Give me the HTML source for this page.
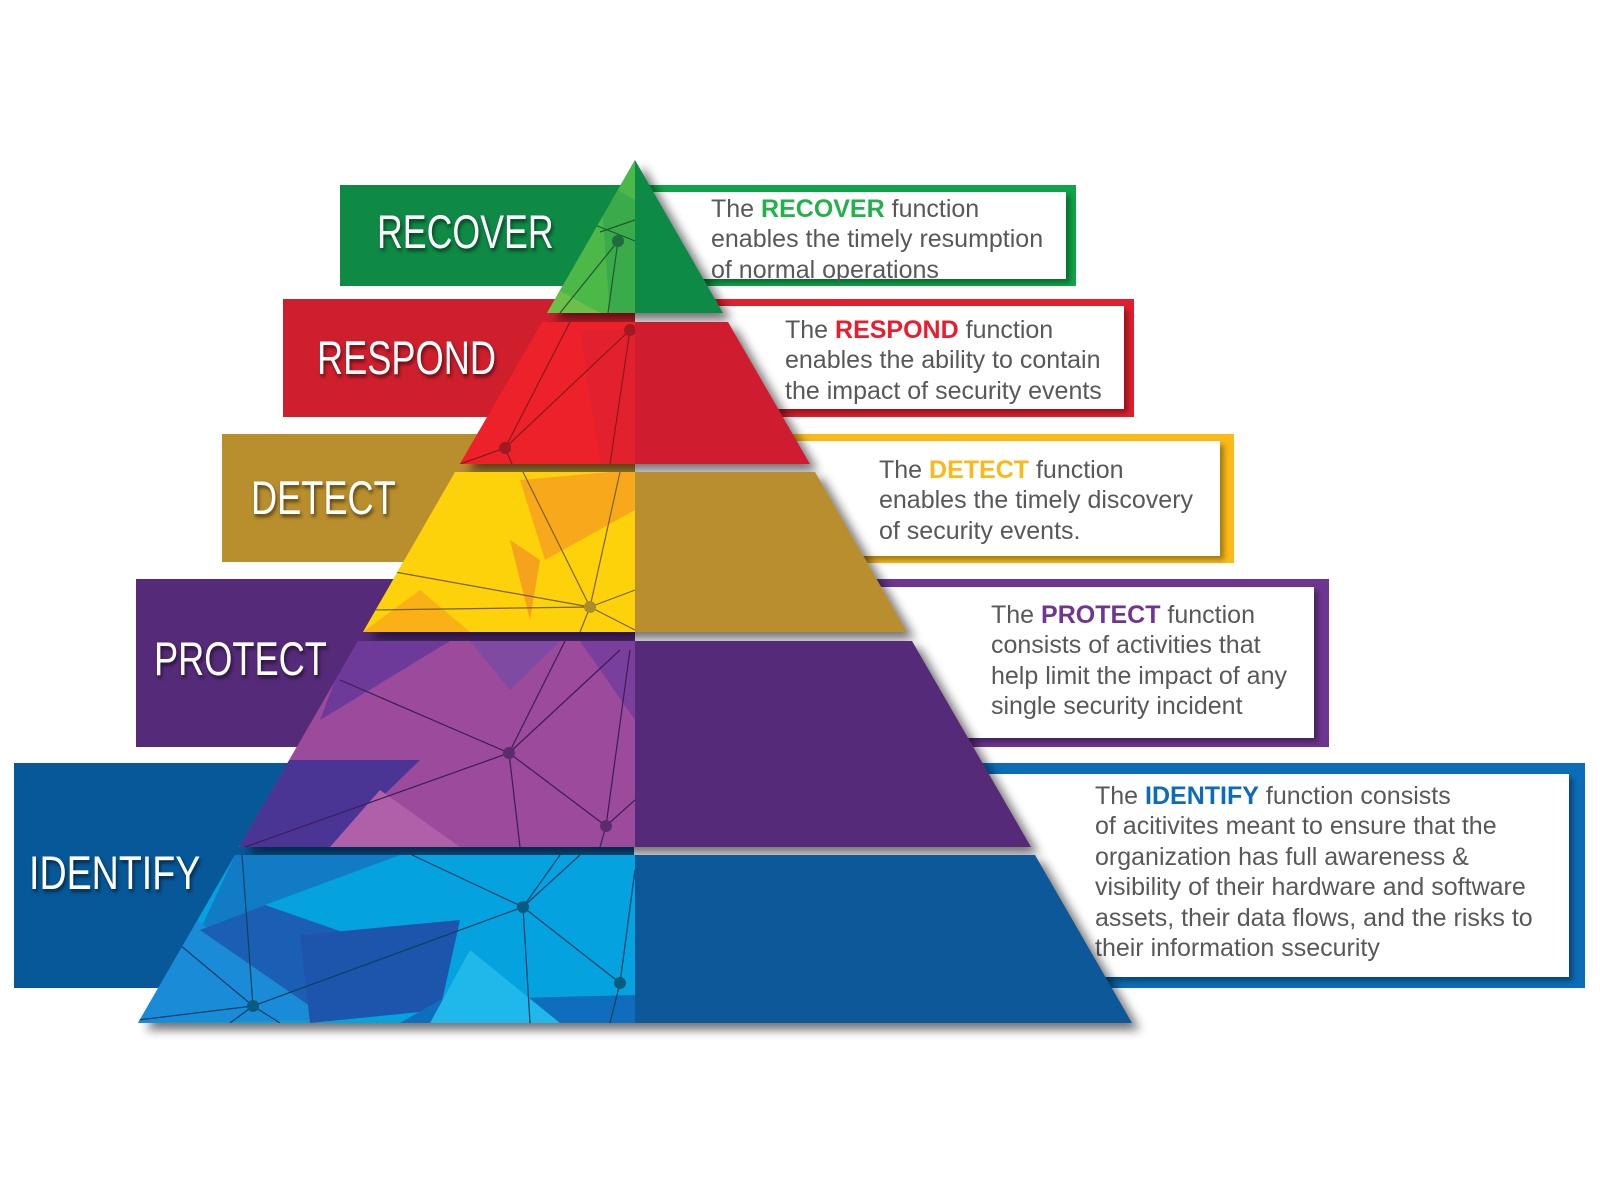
<!DOCTYPE html>
<html><head><meta charset="utf-8"><style>
html,body{margin:0;padding:0;background:#fff;}
#c{position:relative;width:1600px;height:1200px;overflow:hidden;background:#fff;font-family:"Liberation Sans",sans-serif;}
.box{position:absolute;}
.inner{position:absolute;background:#fff;box-shadow:4px 4px 5px rgba(0,0,0,.35);}
.txt{position:absolute;font-size:25px;line-height:30.4px;color:#58585a;white-space:nowrap;}
.txt b{font-weight:bold;}
.lab{position:absolute;color:#fff;font-size:47px;white-space:nowrap;transform-origin:0 50%;text-shadow:2px 3px 4px rgba(0,0,0,.55);line-height:1;}
svg{position:absolute;left:0;top:0;}
</style></head><body><div id="c">
<div class="box" style="left:340px;top:185px;width:300px;height:101px;background:#0e8a45"></div>
<div class="box" style="left:283px;top:299px;width:360px;height:118px;background:#cf1f2d"></div>
<div class="box" style="left:222px;top:434px;width:420px;height:128px;background:#b98e2d"></div>
<div class="box" style="left:136px;top:579px;width:500px;height:168px;background:#552a78"></div>
<div class="box" style="left:14px;top:763px;width:620px;height:225px;background:#075898"></div>
<div class="box" style="left:635px;top:185px;width:441px;height:101px;background:#0fa548"><div class="inner" style="left:0;top:7px;right:10px;bottom:7px"></div></div>
<div class="box" style="left:635px;top:299px;width:499px;height:118px;background:#e21f2d"><div class="inner" style="left:0;top:7px;right:10px;bottom:8px"></div></div>
<div class="box" style="left:635px;top:434px;width:599px;height:129px;background:#fbba18"><div class="inner" style="left:0;top:7px;right:14px;bottom:7px"></div></div>
<div class="box" style="left:635px;top:579px;width:694px;height:168px;background:#6d3591"><div class="inner" style="left:0;top:8px;right:15px;bottom:9px"></div></div>
<div class="box" style="left:635px;top:763px;width:950px;height:225px;background:#0b6db7"><div class="inner" style="left:0;top:11px;right:16px;bottom:11px"></div></div>

<div class="txt" style="left:711px;top:194px">The <b style="color:#22b24c">RECOVER</b> function<br>enables the timely resumption<br>of normal operations</div>
<div class="txt" style="left:785px;top:315px">The <b style="color:#ec1c2e">RESPOND</b> function<br>enables the ability to contain<br>the impact of security events</div>
<div class="txt" style="left:879px;top:455px">The <b style="color:#fbb817">DETECT</b> function<br>enables the timely discovery<br>of security events.</div>
<div class="txt" style="left:991px;top:600px">The <b style="color:#6f3592">PROTECT</b> function<br>consists of activities that<br>help limit the impact of any<br>single security incident</div>
<div class="txt" style="left:1095px;top:781px">The <b style="color:#0b6db7">IDENTIFY</b> function consists<br>of acitivites meant to ensure that the<br>organization has full awareness &amp;<br>visibility of their hardware and software<br>assets, their data flows, and the risks to<br>their information ssecurity</div>

<div class="lab" style="left:377px;top:208px;transform:scaleX(.76)">RECOVER</div>
<div class="lab" style="left:317px;top:334px;transform:scaleX(.77)">RESPOND</div>
<div class="lab" style="left:251px;top:474px;transform:scaleX(.77)">DETECT</div>
<div class="lab" style="left:154px;top:635px;transform:scaleX(.77)">PROTECT</div>
<div class="lab" style="left:29px;top:849px;transform:scaleX(.8)">IDENTIFY</div>

<svg width="1600" height="1200" viewBox="0 0 1600 1200">
<defs>
<filter id="sh" x="-10%" y="-10%" width="130%" height="140%"><feGaussianBlur in="SourceAlpha" stdDeviation="5"/><feOffset dx="8" dy="7"/><feComponentTransfer><feFuncA type="linear" slope="0.55"/></feComponentTransfer><feMerge><feMergeNode/><feMergeNode in="SourceGraphic"/></feMerge></filter>
<clipPath id="k1"><polygon points="635,160 547,313 635,313"/></clipPath>
<clipPath id="k2"><polygon points="542,322 460,464 635,464 635,322"/></clipPath>
<clipPath id="k3"><polygon points="455,472 363,632 635,632 635,472"/></clipPath>
<clipPath id="k4"><polygon points="358,641 239,847 635,847 635,641"/></clipPath>
<clipPath id="k5"><polygon points="235,855 138,1023 635,1023 635,855"/></clipPath>
</defs>
<g filter="url(#sh)">
<polygon points="635,160 723,313 547,313" fill="#0e8a45"/>
<polygon points="542,322 728,322 810,464 460,464" fill="#cf1f2d"/>
<polygon points="455,472 815,472 907,632 363,632" fill="#b98e2d"/>
<polygon points="358,641 912,641 1031,847 239,847" fill="#552a78"/>
<polygon points="235,855 1035,855 1132,1023 138,1023" fill="#075898"/>
</g>
<g clip-path="url(#k1)"><rect x="540" y="155" width="100" height="160" fill="#4cb848"/>
<polygon points="540,280 600,313 540,313" fill="#6cc04a"/><polygon points="600,180 635,200 635,313 610,313" fill="#3aaa4b"/>
<g stroke="#1e5a30" stroke-width="1.2" fill="none"><line x1="595" y1="225" x2="635" y2="241"/><line x1="618" y1="241" x2="560" y2="313"/><line x1="618" y1="241" x2="608" y2="313"/><line x1="600" y1="232" x2="635" y2="220"/></g><circle cx="618" cy="241" r="6" fill="#1f6d3d"/></g>
<g clip-path="url(#k2)"><rect x="455" y="320" width="185" height="150" fill="#ec2129"/>
<polygon points="580,330 635,330 635,464 600,464" fill="#e3202d"/>
<g stroke="#8a1a1a" stroke-width="1.2" fill="none"><line x1="630" y1="330" x2="505" y2="448"/><line x1="570" y1="322" x2="505" y2="448"/><line x1="630" y1="330" x2="610" y2="464"/><line x1="505" y1="448" x2="460" y2="464"/><line x1="505" y1="448" x2="512" y2="464"/></g><circle cx="630" cy="330" r="6" fill="#a11a22"/><circle cx="505" cy="448" r="6" fill="#a11a22"/></g>
<g clip-path="url(#k3)"><rect x="360" y="470" width="280" height="165" fill="#fdd20a"/>
<polygon points="520,480 635,470 635,510 545,560" fill="#f8a81b"/><polygon points="510,540 540,560 530,620" fill="#f6a21c"/><polygon points="363,632 420,590 470,632" fill="#f9b116"/>
<g stroke="#7a6220" stroke-width="1.2" fill="none"><line x1="523" y1="472" x2="590" y2="607"/><line x1="620" y1="472" x2="590" y2="607"/><line x1="395" y1="572" x2="590" y2="607"/><line x1="370" y1="610" x2="590" y2="607"/><line x1="590" y1="607" x2="635" y2="590"/><line x1="590" y1="607" x2="635" y2="630"/><line x1="590" y1="607" x2="580" y2="632"/></g><circle cx="590" cy="607" r="6" fill="#a88d2a"/></g>
<g clip-path="url(#k4)"><rect x="235" y="640" width="405" height="210" fill="#9b4a9c"/>
<polygon points="350,641 450,641 320,720" fill="#6e3a9a"/><polygon points="470,641 560,641 510,690" fill="#7f4aa2"/><polygon points="250,760 420,760 330,847 240,847" fill="#4a3595"/><polygon points="380,790 460,847 330,847" fill="#b060a8"/><polygon points="580,641 635,641 635,720" fill="#7a3e9d"/>
<g stroke="#3d1d55" stroke-width="1.2" fill="none"><line x1="340" y1="680" x2="509" y2="753"/><line x1="509" y1="753" x2="565" y2="641"/><line x1="509" y1="753" x2="620" y2="650"/><line x1="509" y1="753" x2="606" y2="826"/><line x1="509" y1="753" x2="245" y2="847"/><line x1="509" y1="753" x2="520" y2="847"/><line x1="606" y1="826" x2="630" y2="650"/><line x1="606" y1="826" x2="600" y2="847"/><line x1="606" y1="826" x2="635" y2="800"/></g><circle cx="509" cy="753" r="6" fill="#5b2c6c"/><circle cx="606" cy="826" r="6" fill="#5b2c6c"/></g>
<g clip-path="url(#k5)"><rect x="130" y="850" width="510" height="180" fill="#04a2df"/>
<polygon points="235,855 400,855 265,905 200,930" fill="#127bc6"/><polygon points="190,915 330,1020 138,1023" fill="#1a8bd6"/><polygon points="265,905 380,945 330,1020 200,930" fill="#1b5fb5"/><polygon points="300,935 460,920 440,1010 310,1023" fill="#1d55ad"/><polygon points="440,1000 635,995 635,1023 400,1023" fill="#0e6dbc"/><polygon points="470,950 560,1023 430,1023" fill="#20b7ea"/>
<g stroke="#0c3f63" stroke-width="1.2" fill="none"><line x1="412" y1="855" x2="523" y2="907"/><line x1="523" y1="907" x2="560" y2="855"/><line x1="523" y1="907" x2="580" y2="855"/><line x1="523" y1="907" x2="620" y2="983"/><line x1="523" y1="907" x2="253" y2="1006"/><line x1="523" y1="907" x2="530" y2="1023"/><line x1="253" y1="1006" x2="138" y2="1020"/><line x1="253" y1="1006" x2="180" y2="945"/><line x1="253" y1="1006" x2="242" y2="855"/><line x1="253" y1="1006" x2="230" y2="1023"/><line x1="253" y1="1006" x2="280" y2="1023"/><line x1="620" y1="983" x2="635" y2="870"/><line x1="620" y1="983" x2="610" y2="1023"/></g><circle cx="253" cy="1006" r="6" fill="#0c5a80"/><circle cx="523" cy="907" r="6" fill="#0c5a80"/><circle cx="620" cy="983" r="6" fill="#0c5a80"/></g>
</svg>
</div></body></html>
